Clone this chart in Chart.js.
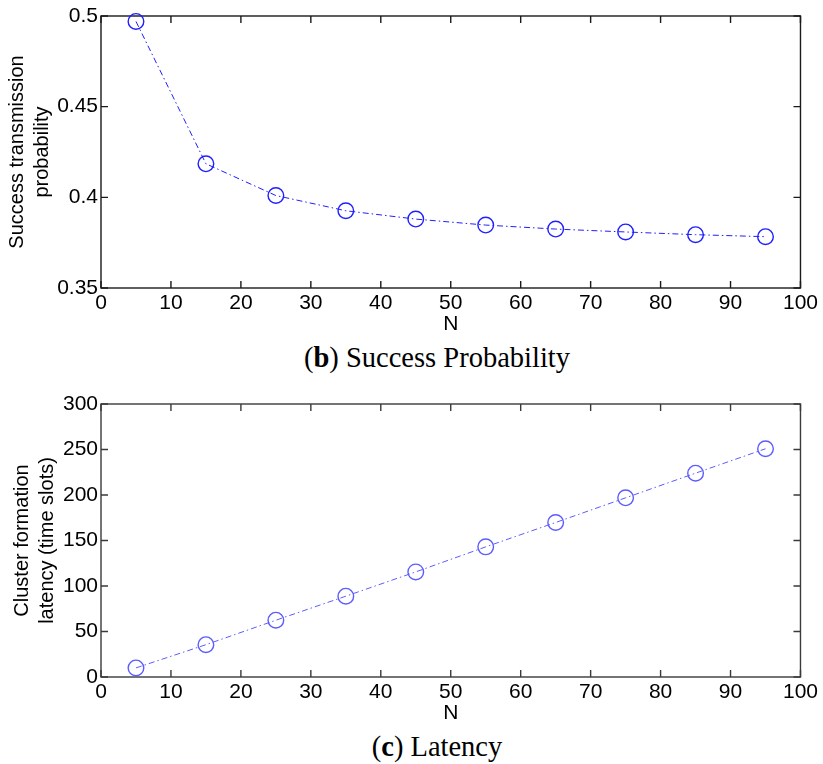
<!DOCTYPE html>
<html>
<head>
<meta charset="utf-8">
<script src="https://cdn.jsdelivr.net/npm/chart.js@4"></script>
<style>
    body { margin: 0; background: #fff; width: 823px; height: 764px; overflow: hidden; }
    .chart-box { position: relative; width: 823px; }
    .caption {
        width: 823px;
        box-sizing: border-box;
        padding-left: 51px;
        text-align: center;
        font-family: "Liberation Serif", "DejaVu Serif", serif;
        font-size: 28.5px;
        color: #000;
    }
</style>
</head>
<body>
<div class="chart-box" style="height: 340px;"><canvas id="successChart"></canvas></div>
<div class="caption" style="height: 40px; line-height: 36px;">(<b>b</b>) Success Probability</div>
<div class="chart-box" style="height: 345px;"><canvas id="latencyChart"></canvas></div>
<div class="caption" style="height: 39px; line-height: 44px;">(<b>c</b>) Latency</div>

<script>
const nodes = [5, 15, 25, 35, 45, 55, 65, 75, 85, 95];
const successProb = [0.497, 0.4185, 0.401, 0.3926, 0.388, 0.3847, 0.3825, 0.3809, 0.3794, 0.3783];
const latency = [10, 35.5, 62.4, 88.8, 115.5, 143, 169.8, 196.9, 224, 250.8];

const xTicks = [0, 10, 20, 30, 40, 50, 60, 70, 80, 90, 100];
const successTicks = [0.35, 0.4, 0.45, 0.5];
const latencyTicks = [0, 50, 100, 150, 200, 250, 300];

const tickFont = { family: "'Liberation Sans', Arial, sans-serif", size: 21, lineHeight: 1 };

// matlab style box with inward ticks on every side
const boxPlugin = {
    id: 'box',
    beforeDatasetsDraw(chart, args, opts) {
        const ctx = chart.ctx;
        const a = chart.chartArea;
        const x = chart.scales.x;
        const y = chart.scales.y;
        const len = 7;
        ctx.save();
        ctx.strokeStyle = opts.color;
        ctx.lineWidth = 1.4;
        ctx.strokeRect(a.left, a.top, a.right - a.left, a.bottom - a.top);
        ctx.beginPath();
        x.ticks.forEach(t => {
            const px = x.getPixelForValue(t.value);
            ctx.moveTo(px, a.bottom); ctx.lineTo(px, a.bottom - len);
            ctx.moveTo(px, a.top); ctx.lineTo(px, a.top + len);
        });
        y.ticks.forEach(t => {
            const py = y.getPixelForValue(t.value);
            ctx.moveTo(a.left, py); ctx.lineTo(a.left + len, py);
            ctx.moveTo(a.right, py); ctx.lineTo(a.right - len, py);
        });
        ctx.stroke();
        ctx.restore();
    }
};

const makeConfig = (values, color, yTicks, yTitle, fmt, opt) => {
    return {
        type: 'line',
        data: {
            datasets: [
                {
                    data: nodes.map((n, i) => ({ x: n, y: values[i] })),
                    borderColor: color,
                    borderWidth: 1,
                    borderDash: [6, 3, 1.5, 3],
                    pointStyle: 'circle',
                    pointRadius: 7.8,
                    pointBorderWidth: 1.4,
                    pointBorderColor: color,
                    pointBackgroundColor: 'rgba(0,0,0,0)',
                    fill: false,
                    clip: false,
                    tension: 0
                }
            ]
        },
        options: {
            responsive: true,
            maintainAspectRatio: false,
            animation: false,
            layout: { padding: { left: opt.left, right: 18, top: opt.top, bottom: opt.bottom } },
            plugins: {
                legend: { display: false },
                tooltip: { enabled: false },
                box: { color: opt.axis }
            },
            scales: {
                x: {
                    type: 'linear',
                    min: 0,
                    max: 100,
                    grid: { display: false, drawTicks: false },
                    border: { display: false },
                    afterBuildTicks: s => { s.ticks = xTicks.map(v => ({ value: v })); },
                    afterFit: s => { s.height = 47; },
                    ticks: { font: tickFont, color: '#000', padding: 5, maxRotation: 0, autoSkip: false },
                    title: { display: true, text: 'N', color: '#000', font: tickFont, padding: { top: 0, bottom: 0 } }
                },
                y: {
                    type: 'linear',
                    min: yTicks[0],
                    max: yTicks[yTicks.length - 1],
                    grid: { display: false, drawTicks: false },
                    border: { display: false },
                    afterBuildTicks: s => { s.ticks = yTicks.map(v => ({ value: v })); },
                    afterFit: s => { s.width = opt.yWidth; },
                    ticks: { font: tickFont, color: '#000', padding: 3, callback: fmt },
                    title: {
                        display: true,
                        text: yTitle,
                        color: '#000',
                        font: { family: "'Liberation Sans', Arial, sans-serif", size: 20, lineHeight: 1.25 },
                        padding: { top: 0, bottom: 0 }
                    }
                }
            }
        },
        plugins: [boxPlugin]
    };
};

new Chart(document.getElementById('successChart'),
    makeConfig(successProb, '#1f1fff', successTicks, ['Success transmission', 'probability'],
        v => String(+Number(v).toFixed(2)),
        { left: 5, yWidth: 96, top: 16, bottom: 5, axis: '#1a1a1a' }));

new Chart(document.getElementById('latencyChart'),
    makeConfig(latency, '#5c5cff', latencyTicks, ['Cluster formation', 'latency (time slots)'],
        v => String(v),
        { left: 10, yWidth: 91, top: 24, bottom: 1, axis: '#3a3a3a' }));
</script>
</body>
</html>
